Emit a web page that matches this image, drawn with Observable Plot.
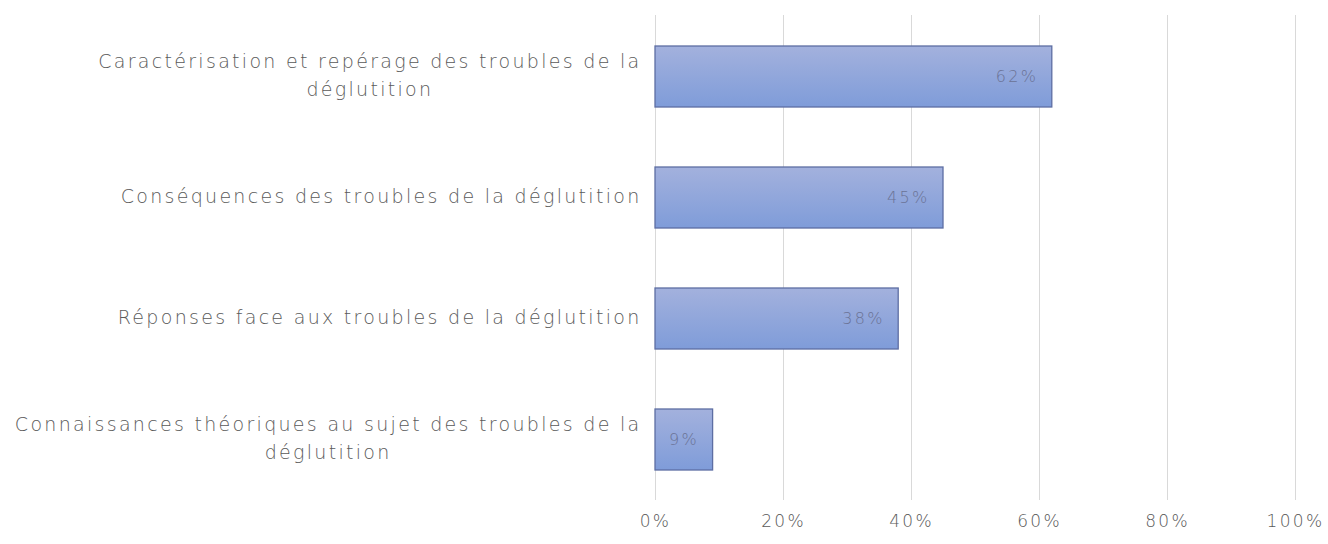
<!DOCTYPE html>
<html>
<head>
<meta charset="utf-8">
<script src="https://cdn.jsdelivr.net/npm/d3@7"></script>
<script src="https://cdn.jsdelivr.net/npm/@observablehq/plot@0.6"></script>
<style>
  html, body { margin: 0; padding: 0; background: #fff; }
  #chart { width: 1328px; height: 544px; }
  #chart svg text { letter-spacing: 2.3px; }
</style>
</head>
<body>
<div id="chart"></div>
<script>
const categories = [
  "Caractérisation et repérage des troubles de la\ndéglutition",
  "Conséquences des troubles de la déglutition",
  "Réponses face aux troubles de la déglutition",
  "Connaissances théoriques au sujet des troubles de la\ndéglutition"
];
const values = [0.62, 0.45, 0.38, 0.09];
const xTicks = [0, 0.2, 0.4, 0.6, 0.8, 1.0];

const data = categories.map((c, i) => ({category: c, value: values[i]}));

const chart = Plot.plot({
  width: 1328,
  height: 544,
  marginLeft: 655,
  marginRight: 33,
  marginTop: 15,
  marginBottom: 44,
  style: {fontFamily: "'DejaVu Sans', sans-serif", fontWeight: 200, background: "#fff"},
  x: {domain: [0, 1], ticks: xTicks, tickFormat: d3.format(".0%"), grid: false},
  y: {domain: categories, paddingInner: 0.5, paddingOuter: 0.25, label: null},
  marks: [
    Plot.ruleX(xTicks, {stroke: "#d9d9d9", strokeWidth: 1}),
    Plot.barX(data, {x: "value", y: "category", fill: "url(#barGrad)", stroke: "#5d6ea3", strokeWidth: 1.3}),
    Plot.text(data, {x: "value", y: "category", text: d => d3.format(".0%")(d.value), textAnchor: "end", dx: -14, fill: "#6b7396", fontSize: 16}),
    Plot.axisX({ticks: xTicks, tickFormat: d3.format(".0%"), tickSize: 0, tickPadding: 14, fontSize: 17, color: "#5a5a5a", label: null}),
    Plot.axisY({tickSize: 0, tickPadding: 14, fontSize: 19, color: "#5a5a5a", label: null, lineHeight: 1.5, dy: -4})
  ]
});

// gradient definition for bars
const ns = "http://www.w3.org/2000/svg";
const defs = document.createElementNS(ns, "defs");
const grad = document.createElementNS(ns, "linearGradient");
grad.setAttribute("id", "barGrad");
grad.setAttribute("x1", "0"); grad.setAttribute("y1", "0");
grad.setAttribute("x2", "0"); grad.setAttribute("y2", "1");
[["0%", "#a3b1dd"], ["100%", "#7f9cd9"]].forEach(([o, c]) => {
  const s = document.createElementNS(ns, "stop");
  s.setAttribute("offset", o); s.setAttribute("stop-color", c);
  grad.appendChild(s);
});
defs.appendChild(grad);
chart.insertBefore(defs, chart.firstChild);

document.getElementById("chart").appendChild(chart);

// center-align multi-line category labels within their block (right edge kept)
chart.querySelectorAll("[aria-label='y-axis tick label'] text").forEach(t => {
  const tspans = t.querySelectorAll("tspan");
  if (tspans.length > 1) {
    const w = t.getBBox().width;
    t.setAttribute("text-anchor", "middle");
    const x0 = +(t.getAttribute("x") || 0);
    tspans.forEach(ts => ts.setAttribute("x", x0 - w / 2));
  }
});
</script>
</body>
</html>
